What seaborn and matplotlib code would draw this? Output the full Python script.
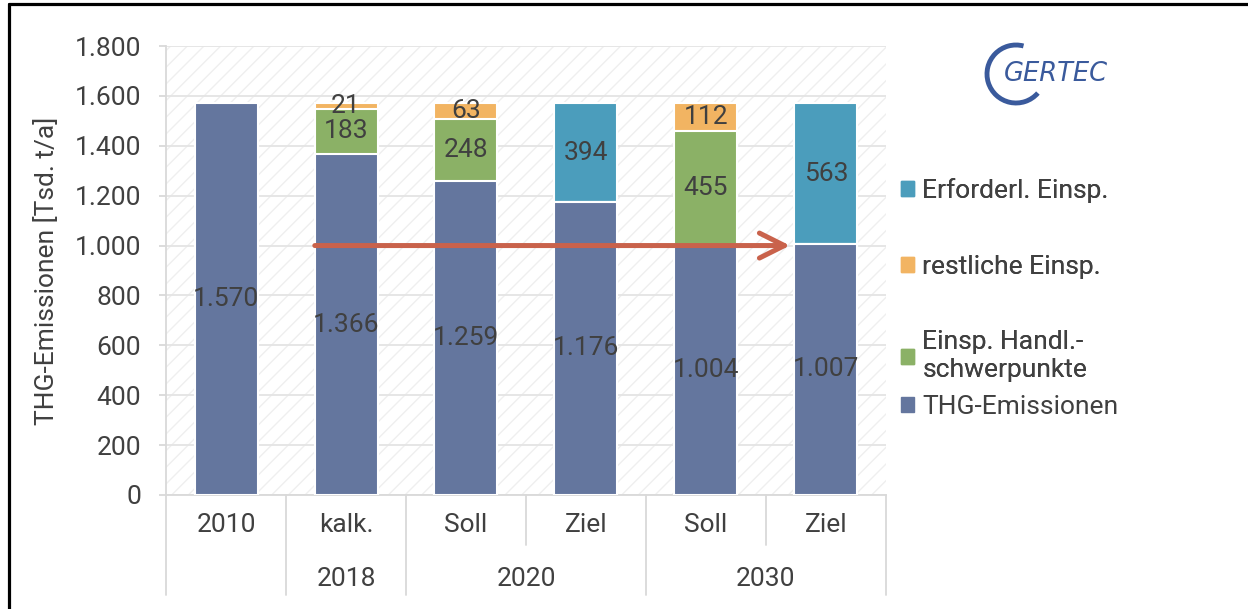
import numpy as np
import pandas as pd
import matplotlib
matplotlib.use("Agg")
import matplotlib.pyplot as plt
import seaborn as sns
from matplotlib.patches import Patch, Arc, Rectangle
from matplotlib.lines import Line2D
import matplotlib.transforms as mtransforms

# data (Tsd. t/a)
keys = ["2010", "2018 kalk.", "2020 Soll", "2020 Ziel", "2030 Soll", "2030 Ziel"]
row1_labels = ["2010", "kalk.", "Soll", "Ziel", "Soll", "Ziel"]
row2_labels = ["2018", "2020", "2030"]
thg = [1570, 1366, 1259, 1176, 1004, 1007]
handl = [0, 183, 248, 0, 455, 0]
rest = [0, 21, 63, 0, 112, 0]
erford = [0, 0, 0, 394, 0, 563]

c_thg = "#64769E"
c_handl = "#8BB166"
c_rest = "#F2B462"
c_erf = "#4B9DBC"
c_text = "#404040"
c_grid = "#E4E4E4"

sns.set_style("white")
plt.rcParams["font.family"] = ["Roboto", "DejaVu Sans"]
plt.rcParams["hatch.linewidth"] = 1.0
fs = 19

df = pd.DataFrame({"key": keys, "thg": thg, "handl": handl, "rest": rest, "erford": erford})
df["c1"] = df["thg"]
df["c2"] = df["c1"] + df["handl"]
df["c3"] = df["c2"] + df["rest"]
df["c4"] = df["c3"] + df["erford"]

fig = plt.figure(figsize=(12.48, 6.09), dpi=100)
ax = fig.add_axes([166 / 1248, 1 - 495 / 609, 720 / 1248, 449 / 609])

# hatched plot background
ax.add_patch(Rectangle((0, 0), 1, 1, transform=ax.transAxes, facecolor="white",
                       edgecolor="#EFEFEF", hatch="//", lw=0, zorder=0))

bw = 0.525
for col, color in [("c4", c_erf), ("c3", c_rest), ("c2", c_handl), ("c1", c_thg)]:
    sns.barplot(data=df, x="key", y=col, order=keys, color=color, width=bw,
                edgecolor="white", linewidth=1.5, saturation=1, ax=ax, zorder=3)

# segment labels
def fmt(v):
    return f"{v:,}".replace(",", ".")

for i in range(len(keys)):
    base = 0
    for v in [thg[i], handl[i], rest[i], erford[i]]:
        if v > 0:
            ax.text(i, base + v / 2, fmt(v), ha="center", va="center",
                    fontsize=fs, color=c_text, zorder=5)
        base += v

# arrow at 1.000
ax.annotate("", xy=(4.70, 1000), xytext=(0.74, 1000),
            arrowprops=dict(arrowstyle="->,head_length=0.9,head_width=0.45",
                            lw=3.6, color="#C9624B", mutation_scale=20,
                            shrinkA=0, shrinkB=0), zorder=6)

ax.set_xlim(-0.5, 5.5)
ax.set_ylim(0, 1800)
ax.set_yticks(np.arange(0, 1801, 200))
ax.set_yticklabels([fmt(v) for v in range(0, 1801, 200)])
ax.yaxis.grid(True, color=c_grid, lw=1.3, zorder=1)
ax.set_axisbelow(True)
ax.tick_params(axis="y", length=5, width=1.3, color="#D9D9D9", pad=13,
               labelsize=fs, labelcolor=c_text, left=True)
ax.set_xticks(range(len(keys)))
ax.set_xticklabels(row1_labels)
ax.tick_params(axis="x", length=0, pad=13, labelsize=fs, labelcolor=c_text)
ax.set_xlabel("")
ax.set_ylabel("THG-Emissionen [Tsd. t/a]", fontsize=fs, color=c_text)
ax.yaxis.set_label_coords(-0.148, 0.5)

for s in ["top", "right"]:
    ax.spines[s].set_visible(False)
for s in ["left", "bottom"]:
    ax.spines[s].set_color("#D9D9D9")
    ax.spines[s].set_linewidth(1.3)

# two-level category axis
trans = mtransforms.blended_transform_factory(ax.transData, ax.transAxes)
full_bottom = -100 / 449
half_bottom = -50 / 449
for xb, full in [(-0.5, True), (0.5, True), (1.5, True), (2.5, False),
                 (3.5, True), (4.5, False), (5.5, True)]:
    ax.add_line(Line2D([xb, xb], [0, full_bottom if full else half_bottom],
                       transform=trans, color="#D9D9D9", lw=1.3, clip_on=False))
for xc, lab in zip([1, 2.5, 4.5], row2_labels):
    ax.text(xc, -84 / 449, lab, transform=trans, ha="center", va="center",
            fontsize=fs, color=c_text)

# legend (Excel spaces the last entry tighter, so it is split in two)
handles = [Patch(color=c_erf, label="Erforderl. Einsp."),
           Patch(color=c_rest, label="restliche Einsp."),
           Patch(color=c_handl, label="Einsp. Handl.-\nschwerpunkte"),
           Patch(color=c_thg, label="THG-Emissionen")]
leg_kw = dict(loc="center left", frameon=False, fontsize=fs, handlelength=0.5,
              handleheight=0.5, handletextpad=0.3, labelcolor=c_text, borderpad=0)
leg1 = fig.legend(handles=handles[:3], bbox_to_anchor=(888 / 1248, 1 - 280 / 609),
                  labelspacing=1.95, **leg_kw)
leg2 = fig.legend(handles=handles[3:], bbox_to_anchor=(888 / 1248, 1 - 407 / 609),
                  **leg_kw)
fig.add_artist(leg1)

# logo
logo_c = "#3A5A9C"
fig.add_artist(Arc((10.16, 5.35), 0.58, 0.58, theta1=75, theta2=319, lw=3.5,
                   color=logo_c, transform=fig.dpi_scale_trans))
fig.text(1004 / 1248, 1 - 74 / 609, "GERTEC", fontsize=18.5, style="italic",
         family=["Liberation Sans Narrow", "DejaVu Sans"], color=logo_c,
         ha="left", va="center")

# outer frame
fx, fy = 8.5 / 1248, 1 - 4 / 609
fig.add_artist(Line2D([fx, fx], [0, fy], transform=fig.transFigure, color="black", lw=2.3))
fig.add_artist(Line2D([fx, 1], [fy, fy], transform=fig.transFigure, color="black", lw=2.3))

fig.savefig("out.png", dpi=100)
